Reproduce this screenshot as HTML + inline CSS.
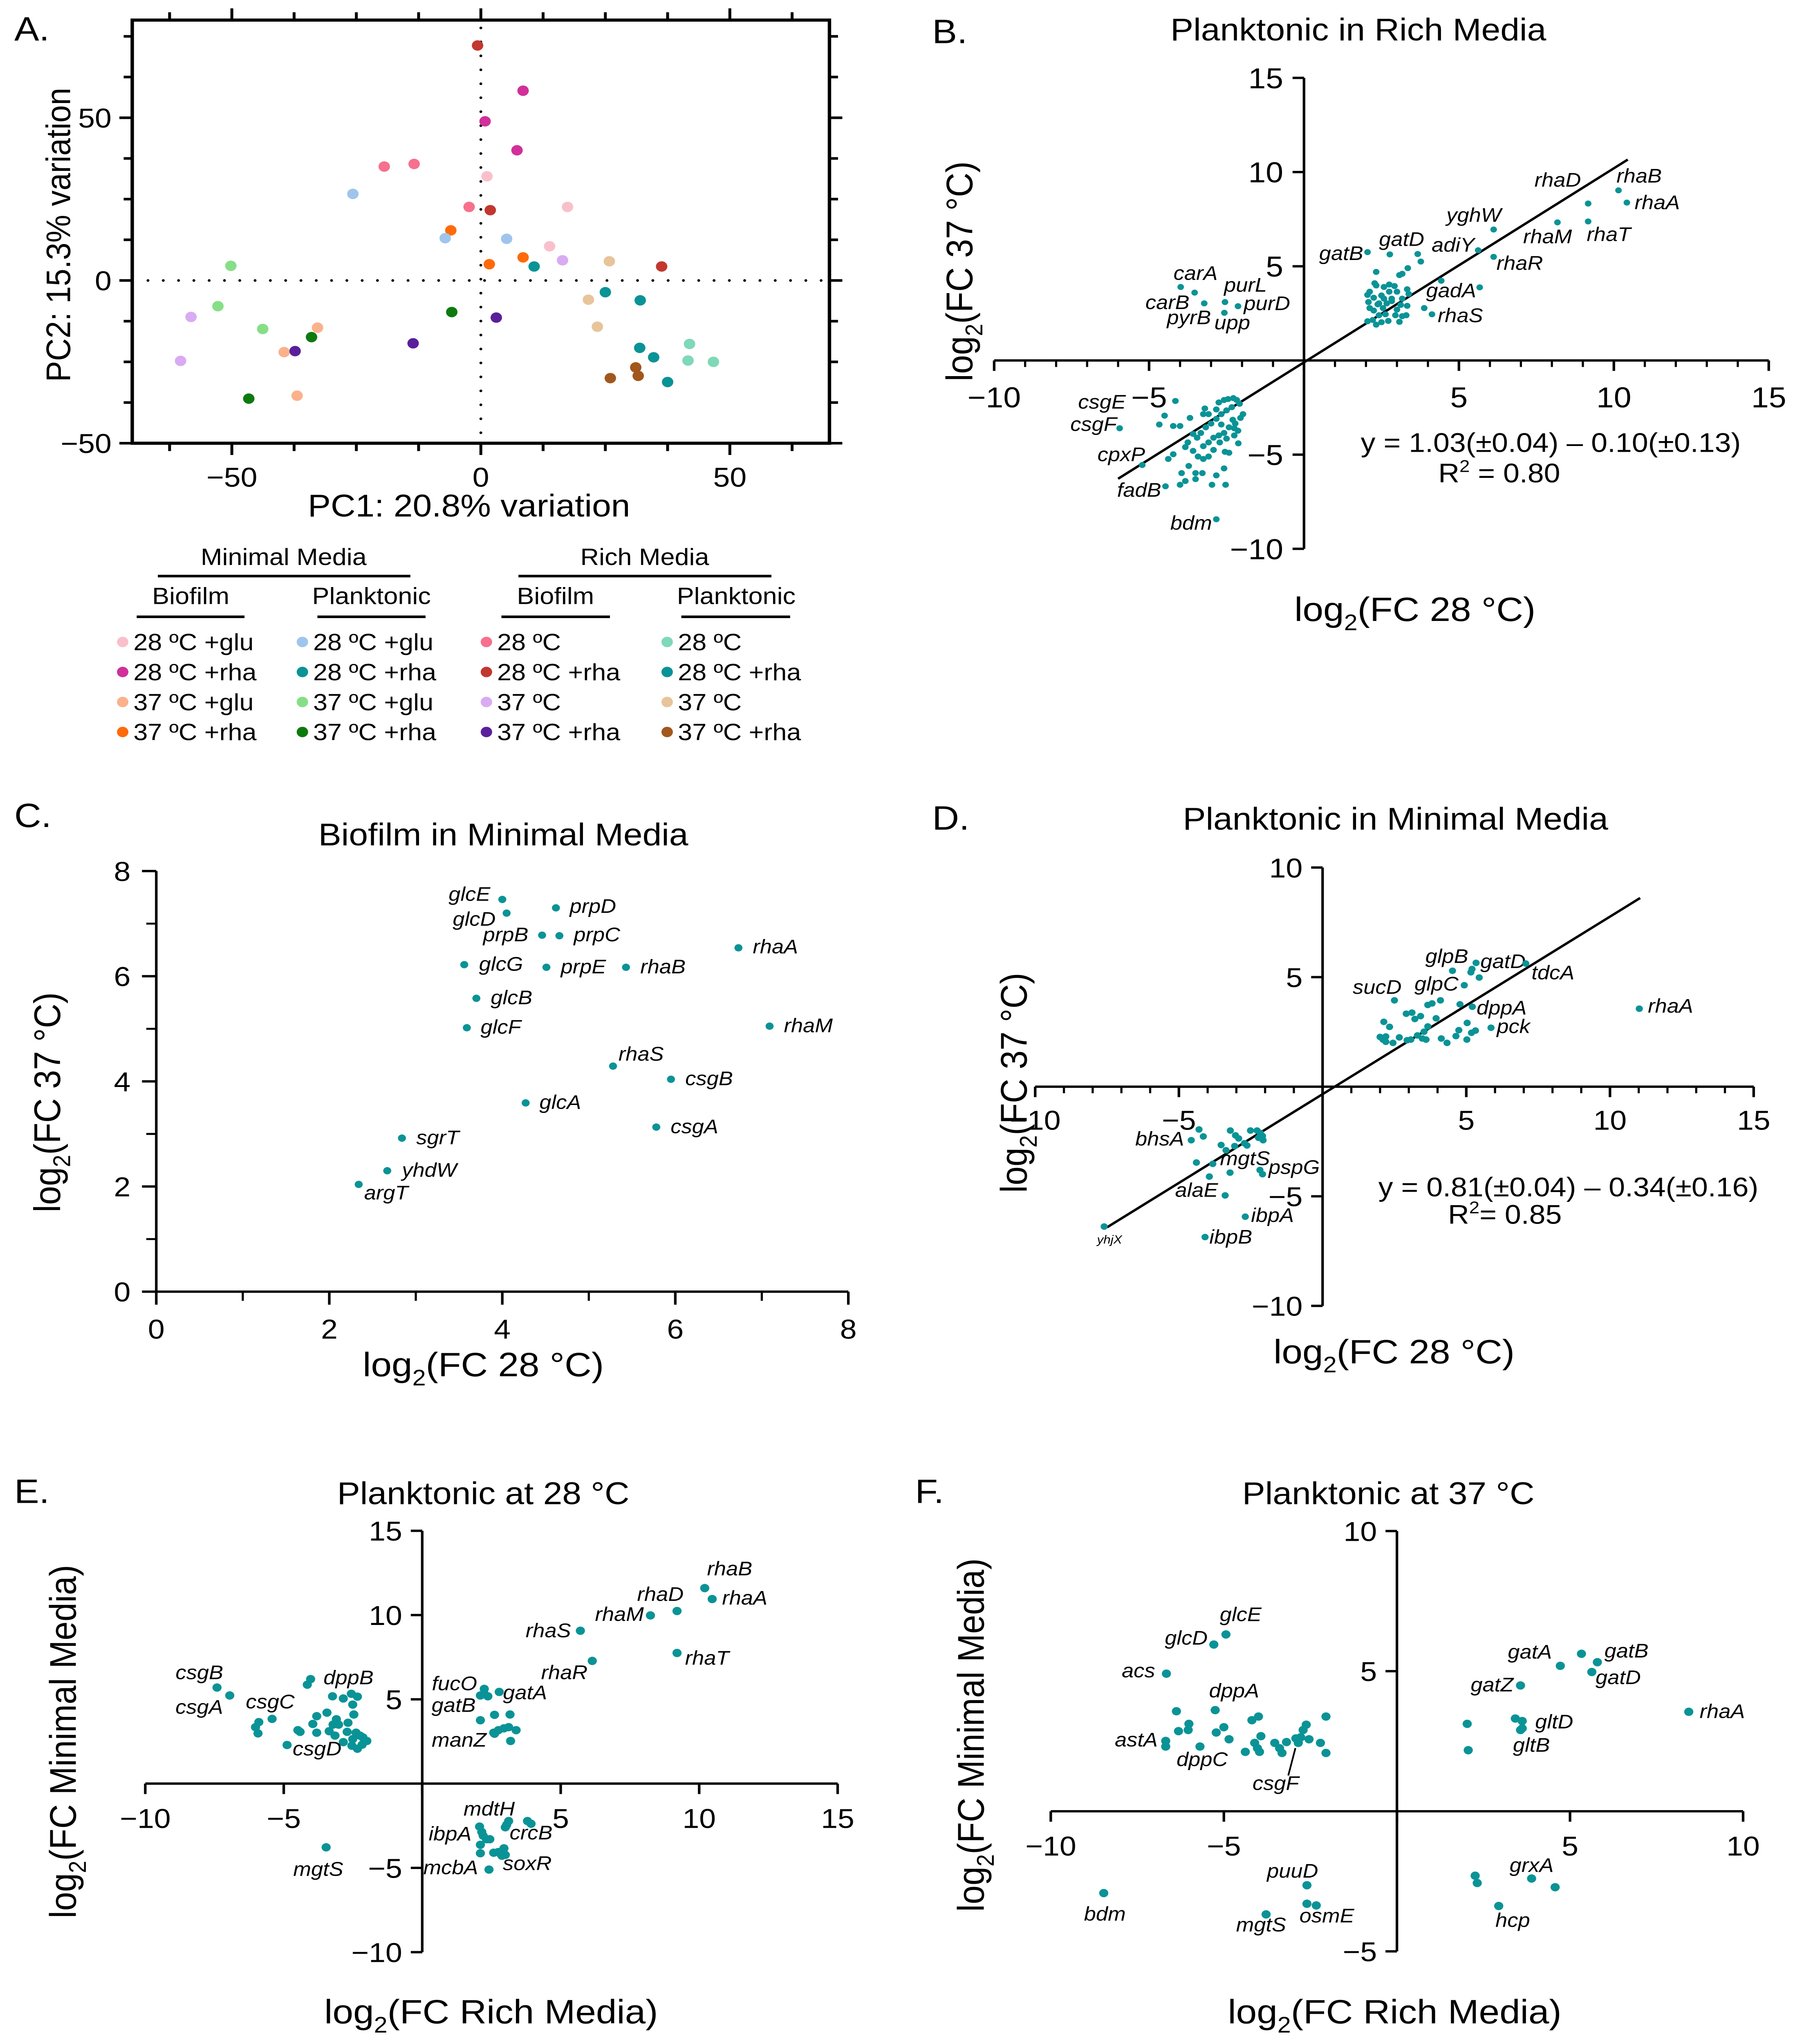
<!DOCTYPE html>
<html><head><meta charset="utf-8"><title>Figure</title>
<style>
html,body{margin:0;padding:0;background:#fff;overflow:hidden;width:100vw;height:100vh;}
svg{display:block;font-family:"Liberation Sans",Arial,sans-serif;width:100vw;height:100vh;}
</style></head>
<body>
<svg id="fig" xmlns="http://www.w3.org/2000/svg" viewBox="0 0 1254 1566.8" preserveAspectRatio="none">
<rect x="0" y="0" width="1254" height="1566.8" fill="#fff"/>
<g font-size="26" fill="#000">
<text x="10" y="31">A.</text>
<text x="652" y="33">B.</text>
<text x="10" y="634">C.</text>
<text x="652" y="636">D.</text>
<text x="10" y="1152">E.</text>
<text x="640" y="1152">F.</text>
</g>
<g font-size="24" text-anchor="middle">
<text x="950" y="31">Planktonic in Rich Media</text>
<text x="352" y="648">Biofilm in Minimal Media</text>
<text x="976" y="636">Planktonic in Minimal Media</text>
<text x="338" y="1153">Planktonic at 28 °C</text>
<text x="971" y="1153">Planktonic at 37 °C</text>
</g>
</svg>
<script>
// ---------- Panel A data ----------
const pcaX = [-0.66,8.48,0.85,7.26,-19.4,-13.4,-25.7,1.23,17.4,-2.36,1.89,-6.03,-7.16,5.18,13.8,8.48,16.4,1.7,10.7,25.8,36.3,-50.2,-52.8,-58.2,-43.8,-32.8,-34.0,-39.5,-37.3,-60.3,-46.6,-36.9,-13.6,-5.84,3.1,25.0,32.0,21.6,23.4,31.9,34.7,41.9,41.6,46.7,31.1,31.6,26.0,37.5];
const pcaY = [72.2,58.3,48.9,40.0,35.0,35.8,26.6,32.0,22.6,22.6,21.6,15.4,13.0,12.8,10.5,7.1,6.2,5.0,4.3,5.9,4.3,4.5,-7.9,-11.2,-14.9,-14.5,-17.4,-22.0,-21.7,-24.7,-36.3,-35.4,-19.3,-9.7,-11.4,-3.6,-6.1,-5.9,-14.2,-20.7,-23.6,-19.5,-24.6,-25.0,-26.7,-29.3,-30.0,-31.2];
const pcaGroup = [9,1,1,1,8,8,4,0,0,8,9,3,4,4,0,3,10,3,5,14,9,6,6,10,6,2,7,2,11,10,7,2,11,7,11,13,13,14,14,13,13,12,12,12,15,15,15,13];
const groupLabels = ["28 ºC +glu","28 ºC +rha","37 ºC +glu","37 ºC +rha","28 ºC +glu","28 ºC +rha","37 ºC +glu","37 ºC +rha","28 ºC","28 ºC +rha","37 ºC","37 ºC +rha","28 ºC","28 ºC +rha","37 ºC","37 ºC +rha"];
const groupColors = ["#f9c0cb","#d12f9a","#fbb18c","#ff6a0a","#9fc5ec","#0a9396","#86df86","#0d7a0d","#f7708c","#c2372e","#d9abf2","#5a1f9a","#7fd8b8","#0a9396","#e8c49a","#a2571c"];
const pcaXTicks = [-62.5,-50,-37.5,-25,-12.5,0,12.5,25,37.5,50,62.5];
const pcaYTicks = [-50,-37.5,-25,-12.5,0,12.5,25,37.5,50,62.5,75];
const pcaXLabels = [-50,0,50];
const pcaYLabels = [-50,0,50];

// ---------- Panel B data ----------
const bPts = [[2.33,4.70],[2.28,4.10],[2.33,3.98],[2.12,3.65],[2.05,3.48],[2.25,3.33],[2.08,3.10],[2.12,2.78],[2.25,2.65],[2.05,2.08],[2.22,2.15],[2.42,2.40],[2.50,3.45],[2.58,3.90],[2.75,4.03],[2.92,3.95],[3.00,3.65],[3.08,4.53],[3.17,4.60],[3.35,4.90],[3.33,3.78],[3.38,3.53],[3.17,3.28],[3.12,2.95],[3.00,2.70],[2.95,2.40],[3.17,2.35],[3.30,2.40],[3.33,2.90],[2.83,3.15],[2.67,3.03],[2.55,2.78],[2.42,3.03],[2.72,2.10],[3.08,2.05],[2.50,2.03],[2.33,1.90],[2.83,3.28],[2.75,3.65],[2.58,3.28],[2.38,2.98],[2.63,2.45],[3.67,5.65],[3.77,5.25],[4.43,4.23],[3.88,2.78],
[-4.50,-2.93],[-4.67,-3.40],[-4.22,-3.48],[-4.00,-3.48],[-3.68,-3.05],[-3.25,-2.85],[-3.20,-2.55],[-3.08,-2.85],[-2.83,-2.60],[-2.75,-2.23],[-2.58,-2.10],[-2.45,-2.05],[-2.28,-2.00],[-2.17,-2.10],[-2.08,-2.30],[-2.33,-2.48],[-2.50,-2.65],[-2.67,-2.85],[-2.83,-3.10],[-3.00,-3.35],[-3.17,-3.55],[-3.33,-3.85],[-3.45,-4.10],[-3.58,-3.90],[-3.75,-4.35],[-3.83,-4.60],[-3.58,-4.80],[-3.42,-5.10],[-3.25,-5.23],[-3.08,-5.10],[-2.92,-4.75],[-2.72,-4.35],[-2.50,-4.15],[-2.25,-3.98],[-2.13,-3.73],[-2.22,-3.35],[-2.05,-3.05],[-1.97,-2.85],[-2.30,-3.15],[-2.42,-3.55],[-2.58,-3.85],[-2.75,-3.98],[-2.92,-4.10],[-3.08,-4.35],[-3.25,-4.55],[-2.55,-4.85],[-2.42,-4.90],[-4.22,-4.98],[-4.38,-5.23],[-3.72,-5.60],[-3.95,-5.98],[-3.50,-5.98],[-3.28,-5.98],[-2.83,-6.10],[-2.58,-5.73],[-3.83,-6.40],[-4.00,-6.60],[-3.50,-6.30],[-2.97,-6.60],[-2.53,-6.60],[-2.25,-3.60],[-2.12,-4.40],[-2.67,-3.40]];
const bGenes = ["rhaB","rhaA","rhaD","rhaT","rhaM","yghW","adiY","rhaR","gatD","gatB","gadA","rhaS","carA","carB","purL","purD","pyrB","upp","csgE","csgF","cpxP","fadB","bdm"];
const bGenePts = [[10.15,9.03],[10.42,8.38],[9.17,8.33],[9.17,7.38],[8.18,7.33],[6.12,6.95],[5.62,5.85],[6.12,5.5],[2.77,5.63],[2.05,5.75],[5.67,3.88],[4.13,2.45],[-3.98,3.9],[-3.53,3.6],[-2.55,3.1],[-2.13,2.88],[-3.22,3.03],[-2.57,2.53],[-4.15,-2.15],[-5.95,-3.6],[-5.22,-5.55],[-4.47,-6.68],[-2.83,-8.43]];
const bLabelLayout = [["s",-1.4,-6],["s",5.4,5],["e",-5,-13],["s",-1,15],["s",-24,16],["s",-33,-6],["e",-2.5,1],["s",2,10],["s",-7.6,-6.5],["e",-3,6],["e",-2.5,7.5],["s",4,6],["s",-5,-5.5],["e",-3.6,12.6],["s",-0.7,-8],["s",4,3],["e",4.7,16],["s",-7,12.6],["e",-34.7,5.8],["e",-2,2],["e",2,-3],["e",-3,8],["e",-3,8]];
const bXTicks = [-10,-5,0,5,10,15];
const bXLabels = [-10,-5,5,10,15];
const bYTicks = [-10,-5,5,10,15];
const bFit = [1.03,-0.10];
const bFitRange = [-6.0,10.45];

// ---------- Panel C data ----------
const cGenes = ["glcE","glcD","prpD","prpB","prpC","glcG","prpE","rhaB","rhaA","glcB","glcF","rhaM","rhaS","csgB","glcA","csgA","sgrT","yhdW","argT"];
const cGenePts = [[4.0,7.46],[4.05,7.2],[4.62,7.30],[4.46,6.78],[4.66,6.77],[3.56,6.22],[4.51,6.17],[5.43,6.17],[6.73,6.54],[3.70,5.58],[3.59,5.02],[7.09,5.05],[5.28,4.29],[5.95,4.04],[4.27,3.59],[5.78,3.13],[2.84,2.92],[2.67,2.30],[2.34,2.04]];
const cLabelLayout = [["e",-8.4,1],["e",-7.7,9.6],["s",9.6,3.8],["e",-9.6,4.6],["s",10,4.2],["s",10.3,4.6],["s",10,4.6],["s",10,4.6],["s",10,4.2],["s",10,4.6],["s",9.6,4.6],["s",10,4.6],["s",3.8,-4.2],["s",10,4.6],["s",9.6,4.6],["s",10,4.6],["s",10,4.6],["s",10.3,4.6],["s",3.8,11.5]];
const cXTicks = [0,2,4,6,8];
const cYTicks = [0,2,4,6,8];

// ---------- Panel D data ----------
const dPts = [[5.2,5.37],[5.16,5.22],[5.45,4.98],[4.1,3.94],[3.81,3.8],[3.66,3.73],[4.78,3.76],[2.91,3.33],[3.11,3.38],[3.21,3.09],[3.41,3.22],[3.95,3.12],[2.13,2.96],[2.33,2.73],[3.66,2.75],[5.03,2.91],[4.74,2.58],[5.18,2.46],[5.32,2.56],[3.53,2.51],[3.3,2.34],[2.0,2.27],[2.2,2.29],[2.1,2.15],[2.2,2.05],[2.45,2.0],[2.67,2.25],[2.94,2.12],[3.07,2.15],[3.47,2.2],[3.6,2.15],[4.13,2.2],[4.33,2.0],[4.64,2.31],[5.02,2.15],
[-4.3,-1.95],[-4.15,-2.27],[-3.21,-2.0],[-3.03,-2.22],[-2.92,-2.36],[-2.51,-2.0],[-2.28,-2.0],[-2.17,-2.11],[-2.09,-2.25],[-2.23,-2.33],[-2.07,-2.44],[-2.72,-2.58],[-2.63,-2.68],[-3.53,-2.66],[-3.06,-2.71],[-3.36,-2.9],[-4.39,-3.46],[-3.22,-3.92],[-2.09,-3.99],[-3.94,-4.1]];
const dGenes = ["glpB","gatD","tdcA","glpC","sucD","dppA","pck","rhaA","bhsA","mgtS","pspG","alaE","ibpA","ibpB","yhjX"];
const dGenePts = [[4.52,5.29],[5.34,5.65],[7.07,5.62],[4.93,4.63],[2.5,3.94],[5.21,3.65],[5.86,2.69],[11.02,3.56],[-4.57,-2.44],[-3.82,-3.52],[-2.18,-3.8],[-3.39,-4.96],[-2.69,-5.93],[-4.09,-6.86],[-7.6,-6.38]];
const dLabelLayout = [["s",-19,-6],["s",3,4],["s",4,12],["e",-4,4],["e",5,-5],["s",3,6],["s",4,4],["s",6,3],["e",-5,4],["s",5,1],["s",6,3],["e",-5,1],["s",4,4],["s",3,5],["s",-5,13,9]];
const dXTicks = [-10,-5,0,5,10,15];
const dXLabels = [-10,-5,5,10,15];
const dYTicks = [-10,-5,5,10];
const dFit = [0.81,-0.34];
const dFitRange = [-7.5,11.05];

// ---------- Panel E data ----------
const ePts = [[-4.15,5.87],[-3.24,5.18],[-2.56,5.33],[-2.34,5.16],[-2.85,5.05],[-2.51,4.69],[-3.44,4.21],[-3.81,4.00],[-2.47,4.10],[-5.90,3.65],[-6.02,3.35],[-5.93,2.98],[-4.49,3.17],[-4.41,3.07],[-3.95,3.54],[-3.81,3.02],[-3.36,3.11],[-3.22,3.50],[-3.10,3.82],[-3.02,3.50],[-2.68,3.61],[-2.71,3.07],[-3.15,2.85],[-2.85,2.46],[-2.54,2.25],[-2.34,2.07],[-2.17,2.31],[-2.00,2.53],[-2.25,2.85],[-2.39,3.02],[-2.14,2.74],[-2.51,2.64],
[2.24,5.33],[2.37,5.18],[2.10,3.76],[2.61,4.08],[3.17,4.10],[2.58,3.02],[2.75,3.17],[2.95,3.28],[3.12,3.35],[3.39,3.17],[3.19,2.53],
[3.05,-2.44],[3.00,-2.59],[3.80,-2.22],[2.15,-2.87],[2.20,-3.09],[2.32,-3.30],[2.44,-3.30],[2.10,-3.63],[2.58,-4.10],[2.75,-4.06],[2.95,-3.84],[3.00,-4.23],[2.83,-4.17],[2.41,-5.1]];
const eGenes = ["rhaB","rhaA","rhaD","rhaM","rhaS","rhaR","rhaT","csgB","csgA","csgC","csgD","dppB","fucO","gatA","gatB","manZ","mdtH","crcB","ibpA","mcbA","soxR","mgtS"];
const eGenePts = [[10.2,11.6],[10.47,10.95],[9.2,10.24],[8.24,9.98],[5.71,9.07],[6.14,7.28],[9.2,7.75],[-7.41,5.7],[-6.95,5.23],[-5.42,3.84],[-4.88,2.29],[-4.03,6.2],[2.24,5.62],[2.78,5.44],[2.1,5.23],[2.61,2.96],[3.12,-2.22],[3.93,-2.38],[2.07,-2.55],[2.1,-4.13],[2.88,-4.28],[-3.47,-3.78]];
const eLabelLayout = [["s",1.6,-9.8],["s",6.9,4.2],["e",4.6,-7.8],["e",-4.6,4.2],["e",-6.6,5],["e",-3.3,14],["s",5.6,8.9],["s",-29,-6.4],["s",-38,14],["s",-18.4,-8],["s",3.9,8],["s",9,4],["e",-5,1],["s",2.6,5.6],["e",-3.3,12.6],["e",-5.6,9.8],["e",4.3,-4.2],["s",-15,12],["e",-5.6,10.6],["e",-1.6,16],["s",0.6,11],["s",-23,21.8]];
const eXTicks = [-10,-5,0,5,10,15];
const eXLabels = [-10,-5,5,10,15];
const eYTicks = [-10,-5,5,10,15];

// ---------- Panel F data ----------
const fPts = [[-6.37,3.57],[-6.31,2.86],[-6.01,3.12],[-6.03,2.90],[-5.22,2.81],[-5.00,3.00],[-4.85,2.57],[-6.68,2.31],[-4.19,3.25],[-4.00,3.38],[-3.93,2.68],[-4.11,2.44],[-4.03,2.25],[-3.97,2.12],[-4.38,2.12],[-3.53,2.44],[-3.39,2.25],[-3.32,2.08],[-3.19,2.47],[-2.92,2.60],[-2.71,2.90],[-2.62,3.09],[-2.78,2.64],[-2.54,2.57],[-2.21,2.44],[-2.05,3.38],[-2.05,2.08],
[2.03,3.12],[2.06,2.18],[3.42,3.31],[3.62,2.96],[5.33,5.62],[2.26,-2.30],[2.32,-2.56],[4.57,-2.71],[-2.60,-3.30]];
const fGenes = ["glcE","glcD","acs","dppA","astA","dppC","csgF","gatA","gatB","gatD","gatZ","gltD","gltB","rhaA","grxA","hcp","bdm","mgtS","puuD","osmE"];
const fGenePts = [[-4.94,6.31],[-5.29,5.95],[-6.66,4.91],[-5.25,3.61],[-6.68,2.51],[-5.69,2.31],[-2.85,2.44],[4.72,5.19],[5.79,5.32],[5.63,4.97],[3.57,4.49],[3.62,3.22],[3.57,2.9],[8.43,3.55],[3.89,-2.40],[2.94,-3.38],[-8.47,-2.92],[-3.78,-3.68],[-2.6,-2.64],[-2.33,-3.36]];
const fLabelLayout = [["s",-4.3,-10.3],["e",-4.3,0],["e",-7.9,2.8],["s",-4.3,-9.8],["e",-5.6,4.2],["s",-16.4,15],["s",-32,36],["e",-5.9,-5.6],["s",4.9,-3.6],["s",2.6,9.2],["e",-4.9,4.5],["s",9,5.6],["s",-5.3,16.7],["s",7.6,4.7],["s",-15.4,-5],["s",-2.3,16],["s",-13.8,21],["s",-21,13],["s",-28,-5.9],["s",-11.8,13]];
const fXTicks = [-10,-5,0,5,10];
const fXLabels = [-10,-5,5,10];
const fYTicks = [-5,5,10];

// ---------- helpers ----------
const NS = 'http://www.w3.org/2000/svg';
const svg = document.getElementById('fig');
const TEAL = '#0a9396';
function mk(tag, attrs, parent) {
  const e = document.createElementNS(NS, tag);
  for (const k in attrs) e.setAttribute(k, attrs[k]);
  parent.appendChild(e);
  return e;
}
function fmt(v) { return (v < 0 ? '\u2212' : '') + Math.abs(v); }

function axisTitle(parent, x, y, rotate, pre, post, name) {
  const t = mk('text', {x: x, y: y, 'font-size': 26, 'text-anchor': 'middle'}, parent);
  if (rotate) t.setAttribute('transform', 'rotate(-90 ' + x + ' ' + y + ')');
  
  
  const s1 = mk('tspan', {}, t); s1.textContent = pre;
  const s2 = mk('tspan', {dy: 7, 'font-size': 17}, t); s2.textContent = '2';
  const s3 = mk('tspan', {dy: -7}, t); s3.textContent = post;
  return t;
}

function scatterPanel(cfg) {
  const g = mk('g', {}, svg);
  
  
  const sx = v => cfg.x0 + v * cfg.xs;
  const sy = v => cfg.y0 - v * cfg.ys;
  const tl = cfg.tickLen, ml = cfg.minorLen;
  const ax = mk('line', {x1: sx(cfg.xmin), x2: sx(cfg.xmax), y1: sy(0), y2: sy(0), stroke: '#000', 'stroke-width': 1.8}, g);
  
  
  const ay = mk('line', {x1: sx(0), x2: sx(0), y1: sy(cfg.ymin), y2: sy(cfg.ymax), stroke: '#000', 'stroke-width': 1.8}, g);
  
  
  cfg.xTicks.forEach(v => {
    const t = mk('line', {x1: sx(v), x2: sx(v), y1: sy(0), y2: sy(0) + tl, stroke: '#000', 'stroke-width': 1.8}, g);
    
    
  });
  if (cfg.xMinor) {
    for (let v = cfg.xmin; v <= cfg.xmax; v += cfg.xMinor) {
      if (cfg.xTicks.indexOf(v) >= 0) continue;
      const t = mk('line', {x1: sx(v), x2: sx(v), y1: sy(0), y2: sy(0) + ml, stroke: '#000', 'stroke-width': 1.5}, g);
      
      
    }
  }
  cfg.xLabels.forEach(v => {
    const t = mk('text', {x: sx(v), y: sy(0) + cfg.xLabelDy, 'font-size': cfg.tickFont, 'text-anchor': 'middle'}, g);
    
    
    t.textContent = fmt(v);
  });
  cfg.yTicks.forEach(v => {
    const t = mk('line', {x1: sx(0) - tl, x2: sx(0), y1: sy(v), y2: sy(v), stroke: '#000', 'stroke-width': 1.8}, g);
    
    
  });
  if (cfg.yMinor) {
    for (let v = cfg.ymin; v <= cfg.ymax; v += cfg.yMinor) {
      if (cfg.yTicks.indexOf(v) >= 0) continue;
      const t = mk('line', {x1: sx(0) - ml, x2: sx(0), y1: sy(v), y2: sy(v), stroke: '#000', 'stroke-width': 1.5}, g);
      
      
    }
  }
  (cfg.yLabels || cfg.yTicks).forEach(v => {
    const t = mk('text', {x: sx(0) - cfg.yLabelGap, y: sy(v) + cfg.tickFont * 0.36, 'font-size': cfg.tickFont, 'text-anchor': 'end'}, g);
    
    
    t.textContent = fmt(v);
  });
  if (cfg.fit) {
    const x1 = cfg.fitRange[0], x2 = cfg.fitRange[1];
    const l = mk('line', {x1: sx(x1), y1: sy(cfg.fit[0] * x1 + cfg.fit[1]), x2: sx(x2), y2: sy(cfg.fit[0] * x2 + cfg.fit[1]), stroke: '#000', 'stroke-width': 1.8}, g);
    
    
  }
  (cfg.pts || []).forEach(p => {
    const c = mk('circle', {cx: sx(p[0]), cy: sy(p[1]), r: cfg.r, fill: TEAL}, g);
    
    
  });
  cfg.genePts.forEach((p, i) => {
    const c = mk('circle', {cx: sx(p[0]), cy: sy(p[1]), r: cfg.r, fill: TEAL}, g);
    
    
    const L = cfg.layout[i];
    const t = mk('text', {x: sx(p[0]) + L[1], y: sy(p[1]) + L[2], 'font-size': L[3] || 15, 'font-style': 'italic', 'text-anchor': L[0] === 'e' ? 'end' : 'start'}, g);
    
    
    t.textContent = cfg.genes[i];
  });
  return {g: g, sx: sx, sy: sy};
}

// ---------- Panel A ----------
(function () {
  const g = mk('g', {}, svg);
  
  
  const sx = v => 336.3 + v * 3.483;
  const sy = v => 215 - v * 2.495;
  const xmin = -70, xmax = 70, ymin = -50, ymax = 80;
  pcaXTicks.forEach(v => {
    const len = (v % 50 === 0) ? 9 : 6;
    const t1 = mk('line', {x1: sx(v), x2: sx(v), y1: sy(ymin), y2: sy(ymin) + len, stroke: '#000', 'stroke-width': 2}, g);
    
    
    const t2 = mk('line', {x1: sx(v), x2: sx(v), y1: sy(ymax), y2: sy(ymax) - len, stroke: '#000', 'stroke-width': 2}, g);
    
    
  });
  pcaYTicks.forEach(v => {
    const len = (v % 50 === 0) ? 9 : 6;
    const t1 = mk('line', {x1: sx(xmin) - len, x2: sx(xmin), y1: sy(v), y2: sy(v), stroke: '#000', 'stroke-width': 2}, g);
    
    
    const t2 = mk('line', {x1: sx(xmax), x2: sx(xmax) + len, y1: sy(v), y2: sy(v), stroke: '#000', 'stroke-width': 2}, g);
    
    
  });
  const box = mk('rect', {x: sx(xmin), y: sy(ymax), width: sx(xmax) - sx(xmin), height: sy(ymin) - sy(ymax), fill: 'none', stroke: '#000', 'stroke-width': 2.4}, g);
  
  
  const dv = mk('line', {x1: sx(0), x2: sx(0), y1: sy(ymax) + 6, y2: sy(ymin) - 4, stroke: '#000', 'stroke-width': 2, 'stroke-dasharray': '0 10.7', 'stroke-linecap': 'round'}, g);
  
  
  const dh = mk('line', {x1: sx(xmin) + 11, x2: sx(xmax) - 4, y1: sy(0), y2: sy(0), stroke: '#000', 'stroke-width': 2, 'stroke-dasharray': '0 10.7', 'stroke-linecap': 'round'}, g);
  
  
  pcaXLabels.forEach(v => {
    const t = mk('text', {x: sx(v), y: 373, 'font-size': 21, 'text-anchor': 'middle'}, g);
    
    
    t.textContent = fmt(v);
  });
  pcaYLabels.forEach(v => {
    const t = mk('text', {x: 78, y: sy(v) + 7.5, 'font-size': 21, 'text-anchor': 'end'}, g);
    
    
    t.textContent = fmt(v);
  });
  const xt = mk('text', {x: 328, y: 396, 'font-size': 24, 'text-anchor': 'middle'}, g);
  
  
  xt.textContent = 'PC1: 20.8% variation';
  const yt = mk('text', {x: 49, y: 180, 'font-size': 24, 'text-anchor': 'middle', transform: 'rotate(-90 49 180)'}, g);
  
  
  yt.textContent = 'PC2: 15.3% variation';
  pcaX.forEach((v, i) => {
    const c = mk('circle', {cx: sx(v), cy: sy(pcaY[i]), r: 4, fill: groupColors[pcaGroup[i]]}, g);
    
    
  });

  const lg = mk('g', {'font-size': 18}, svg);
  
  
  const heads = [["Minimal Media", 198.4, 433, 110.4, 287], ["Rich Media", 450.9, 433, 362.6, 539.5],
                 ["Biofilm", 133.4, 463, 95.6, 171], ["Planktonic", 259.8, 463, 222, 297.6],
                 ["Biofilm", 388.5, 463, 350.7, 426.6], ["Planktonic", 514.9, 463, 476.5, 552.6]];
  heads.forEach((h, i) => {
    const t = mk('text', {x: h[1], y: h[2], 'text-anchor': 'middle'}, lg);
    
    
    t.textContent = h[0];
    const ly = i < 2 ? 441.6 : 472.8;
    const l = mk('line', {x1: h[3], x2: h[4], y1: ly, y2: ly, stroke: '#000', 'stroke-width': 2}, lg);
    
    
  });
  const colDot = [85.8, 211.5, 340.2, 466.6];
  groupLabels.forEach((lab, i) => {
    const col = Math.floor(i / 4), row = i % 4;
    const yy = 498.4 + row * 23;
    const c = mk('circle', {cx: colDot[col], cy: yy - 6.3, r: 4, fill: groupColors[i]}, lg);
    
    
    const t = mk('text', {x: colDot[col] + 7.5, y: yy}, lg);
    
    
    t.textContent = lab;
  });
})();

// ---------- Panel B ----------
const pb = scatterPanel({name: 'panel-b-scatter', x0: 912, xs: 21.67, y0: 276.3, ys: 14.44, xmin: -10, xmax: 15, ymin: -10, ymax: 15,
  xTicks: bXTicks, xLabels: bXLabels, yTicks: bYTicks, xMinor: 1, tickLen: 8, minorLen: 5, tickFont: 22, xLabelDy: 36, yLabelGap: 14.5,
  pts: bPts, genes: bGenes, genePts: bGenePts, layout: bLabelLayout, r: 2.3, fit: bFit, fitRange: bFitRange});
axisTitle(svg, 680, 208, true, 'log', '(FC 37 °C)', 'y-axis-title-b');
axisTitle(svg, 989.6, 476, false, 'log', '(FC 28 °C)', 'x-axis-title-b');
(function () {
  const t = mk('text', {x: 951.7, y: 346.4, 'font-size': 20.5}, svg);
  
  
  t.textContent = 'y = 1.03(±0.04) – 0.10(±0.13)';
  const r = mk('text', {x: 1005.9, y: 369.8, 'font-size': 20.5}, svg);
  
  
  const a = mk('tspan', {}, r); a.textContent = 'R';
  const b = mk('tspan', {dy: -8, 'font-size': 13}, r); b.textContent = '2';
  const c = mk('tspan', {dy: 8}, r); c.textContent = ' = 0.80';
})();

// ---------- Panel C ----------
scatterPanel({name: 'panel-c-scatter', x0: 109.3, xs: 60.5, y0: 990.1, ys: 40.3, xmin: 0, xmax: 8, ymin: 0, ymax: 8,
  xTicks: cXTicks, xLabels: cXTicks, yTicks: cYTicks, xMinor: 1, yMinor: 1, tickLen: 10, minorLen: 7, tickFont: 21, xLabelDy: 36, yLabelGap: 18,
  pts: [], genes: cGenes, genePts: cGenePts, layout: cLabelLayout, r: 2.8});
axisTitle(svg, 42, 845, true, 'log', '(FC 37 °C)', 'y-axis-title-c');
axisTitle(svg, 338, 1055, false, 'log', '(FC 28 °C)', 'x-axis-title-c');

// ---------- Panel D ----------
scatterPanel({name: 'panel-d-scatter', x0: 925, xs: 20.1, y0: 833, ys: 16.8, xmin: -10, xmax: 15, ymin: -10, ymax: 10,
  xTicks: dXTicks, xLabels: dXLabels, yTicks: dYTicks, xMinor: 1, tickLen: 8, minorLen: 5, tickFont: 21, xLabelDy: 33, yLabelGap: 14,
  pts: dPts, genes: dGenes, genePts: dGenePts, layout: dLabelLayout, r: 2.5, fit: dFit, fitRange: dFitRange});
axisTitle(svg, 718, 830, true, 'log', '(FC 37 °C)', 'y-axis-title-d');
axisTitle(svg, 975, 1045, false, 'log', '(FC 28 °C)', 'x-axis-title-d');
(function () {
  const t = mk('text', {x: 964, y: 917, 'font-size': 20.5}, svg);
  
  
  t.textContent = 'y = 0.81(±0.04) – 0.34(±0.16)';
  const r = mk('text', {x: 1012.7, y: 938, 'font-size': 20.5}, svg);
  
  
  const a = mk('tspan', {}, r); a.textContent = 'R';
  const b = mk('tspan', {dy: -8, 'font-size': 13}, r); b.textContent = '2';
  const c = mk('tspan', {dy: 8}, r); c.textContent = '= 0.85';
})();

// ---------- Panel E ----------
scatterPanel({name: 'panel-e-scatter', x0: 295.3, xs: 19.37, y0: 1367.2, ys: 12.92, xmin: -10, xmax: 15, ymin: -10, ymax: 15,
  xTicks: eXTicks, xLabels: eXLabels, yTicks: eYTicks, tickLen: 8, minorLen: 5, tickFont: 21, xLabelDy: 34, yLabelGap: 14,
  pts: ePts, genes: eGenes, genePts: eGenePts, layout: eLabelLayout, r: 3.2});
axisTitle(svg, 53, 1335, true, 'log', '(FC Minimal Media)', 'y-axis-title-e');
axisTitle(svg, 343.5, 1551, false, 'log', '(FC Rich Media)', 'x-axis-title-e');

// ---------- Panel F ----------
const pf = scatterPanel({name: 'panel-f-scatter', x0: 977, xs: 24.21, y0: 1388.4, ys: 21.48, xmin: -10, xmax: 10, ymin: -5, ymax: 10,
  xTicks: fXTicks, xLabels: fXLabels, yTicks: fYTicks, tickLen: 8, minorLen: 5, tickFont: 21, xLabelDy: 34, yLabelGap: 14,
  pts: fPts, genes: fGenes, genePts: fGenePts, layout: fLabelLayout, r: 3.2});
(function () {
  const p = fGenePts[fGenes.indexOf('csgF')];
  const l = mk('line', {x1: pf.sx(p[0]) - 7, y1: pf.sy(p[1]) + 25, x2: pf.sx(p[0]) - 2, y2: pf.sy(p[1]) + 4, stroke: '#000', 'stroke-width': 1.2}, pf.g);
  
  
})();
axisTitle(svg, 688, 1330, true, 'log', '(FC Minimal Media)', 'y-axis-title-f');
axisTitle(svg, 975.4, 1551, false, 'log', '(FC Rich Media)', 'x-axis-title-f');
</script>
</body></html>
